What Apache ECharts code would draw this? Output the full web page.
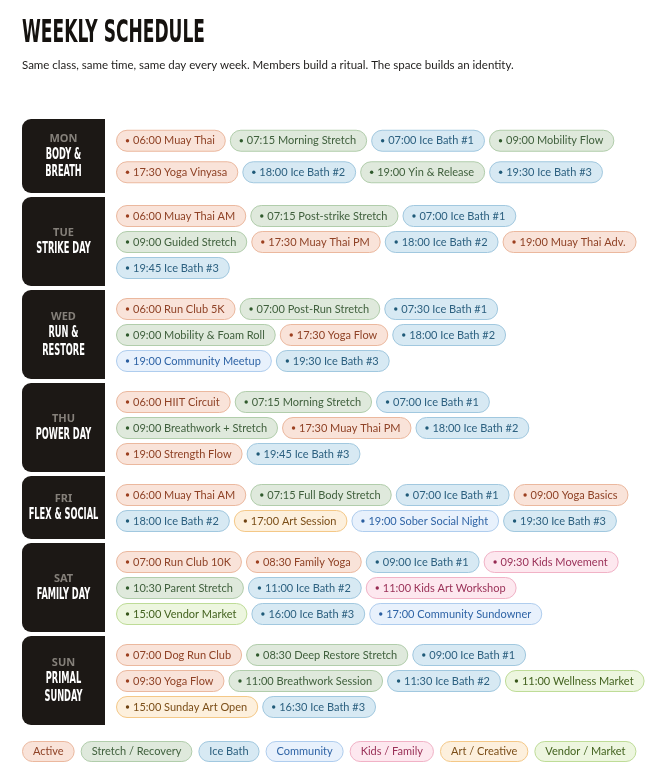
<!DOCTYPE html>
<html>
<head>
<meta charset="utf-8">
<script src="https://cdn.jsdelivr.net/npm/echarts@6/dist/echarts.min.js"></script>
<style>
  html, body { margin: 0; padding: 0; background: #fff; }
  #chart { width: 658px; height: 784px; }
</style>
</head>
<body>
<div id="chart"></div>
<script>
// 数据：每天的缩写和主题
const days = ['MON', 'TUE', 'WED', 'THU', 'FRI', 'SAT', 'SUN'];
const dayThemes = [
  ['BODY &', 'BREATH'],
  ['STRIKE DAY'],
  ['RUN &', 'RESTORE'],
  ['POWER DAY'],
  ['FLEX & SOCIAL'],
  ['FAMILY DAY'],
  ['PRIMAL', 'SUNDAY']
];

// 每天的课程，按原图的行分组 [时间, 名称, 类别]
const monClasses = [
  [['06:00', 'Muay Thai', 'active'], ['07:15', 'Morning Stretch', 'stretch'],
   ['07:00', 'Ice Bath #1', 'ice'], ['09:00', 'Mobility Flow', 'stretch']],
  [['17:30', 'Yoga Vinyasa', 'active'], ['18:00', 'Ice Bath #2', 'ice'],
   ['19:00', 'Yin & Release', 'stretch'], ['19:30', 'Ice Bath #3', 'ice']]
];
const tueClasses = [
  [['06:00', 'Muay Thai AM', 'active'], ['07:15', 'Post-strike Stretch', 'stretch'],
   ['07:00', 'Ice Bath #1', 'ice']],
  [['09:00', 'Guided Stretch', 'stretch'], ['17:30', 'Muay Thai PM', 'active'],
   ['18:00', 'Ice Bath #2', 'ice'], ['19:00', 'Muay Thai Adv.', 'active']],
  [['19:45', 'Ice Bath #3', 'ice']]
];
const wedClasses = [
  [['06:00', 'Run Club 5K', 'active'], ['07:00', 'Post-Run Stretch', 'stretch'],
   ['07:30', 'Ice Bath #1', 'ice']],
  [['09:00', 'Mobility & Foam Roll', 'stretch'], ['17:30', 'Yoga Flow', 'active'],
   ['18:00', 'Ice Bath #2', 'ice']],
  [['19:00', 'Community Meetup', 'community'], ['19:30', 'Ice Bath #3', 'ice']]
];
const thuClasses = [
  [['06:00', 'HIIT Circuit', 'active'], ['07:15', 'Morning Stretch', 'stretch'],
   ['07:00', 'Ice Bath #1', 'ice']],
  [['09:00', 'Breathwork + Stretch', 'stretch'], ['17:30', 'Muay Thai PM', 'active'],
   ['18:00', 'Ice Bath #2', 'ice']],
  [['19:00', 'Strength Flow', 'active'], ['19:45', 'Ice Bath #3', 'ice']]
];
const friClasses = [
  [['06:00', 'Muay Thai AM', 'active'], ['07:15', 'Full Body Stretch', 'stretch'],
   ['07:00', 'Ice Bath #1', 'ice'], ['09:00', 'Yoga Basics', 'active']],
  [['18:00', 'Ice Bath #2', 'ice'], ['17:00', 'Art Session', 'art'],
   ['19:00', 'Sober Social Night', 'community'], ['19:30', 'Ice Bath #3', 'ice']]
];
const satClasses = [
  [['07:00', 'Run Club 10K', 'active'], ['08:30', 'Family Yoga', 'active'],
   ['09:00', 'Ice Bath #1', 'ice'], ['09:30', 'Kids Movement', 'kids']],
  [['10:30', 'Parent Stretch', 'stretch'], ['11:00', 'Ice Bath #2', 'ice'],
   ['11:00', 'Kids Art Workshop', 'kids']],
  [['15:00', 'Vendor Market', 'vendor'], ['16:00', 'Ice Bath #3', 'ice'],
   ['17:00', 'Community Sundowner', 'community']]
];
const sunClasses = [
  [['07:00', 'Dog Run Club', 'active'], ['08:30', 'Deep Restore Stretch', 'stretch'],
   ['09:00', 'Ice Bath #1', 'ice']],
  [['09:30', 'Yoga Flow', 'active'], ['11:00', 'Breathwork Session', 'stretch'],
   ['11:30', 'Ice Bath #2', 'ice'], ['11:00', 'Wellness Market', 'vendor']],
  [['15:00', 'Sunday Art Open', 'art'], ['16:30', 'Ice Bath #3', 'ice']]
];
const weekClasses = [monClasses, tueClasses, wedClasses, thuClasses, friClasses, satClasses, sunClasses];

// 图例
const categoryKeys = ['active', 'stretch', 'ice', 'community', 'kids', 'art', 'vendor'];
const categoryNames = ['Active', 'Stretch / Recovery', 'Ice Bath', 'Community', 'Kids / Family', 'Art / Creative', 'Vendor / Market'];

const titleText = 'WEEKLY SCHEDULE';
const subtitleText = 'Same class, same time, same day every week. Members build a ritual. The space builds an identity.';

// 样式
const palette = {
  active:    { fill: '#f9e3d9', border: '#ebb89e', text: '#8f4226', dot: '#9c3f1f' },
  stretch:   { fill: '#dfe9dc', border: '#b1cdab', text: '#40603d', dot: '#2f5a2c' },
  ice:       { fill: '#d7e9f3', border: '#a1c8df', text: '#2d6180', dot: '#1f5a78' },
  community: { fill: '#e8f1fc', border: '#afcdee', text: '#2f64a6', dot: '#2a5ea0' },
  kids:      { fill: '#fde8ef', border: '#f1b2c6', text: '#9a3158', dot: '#962a52' },
  art:       { fill: '#fdf0dd', border: '#f4c887', text: '#7b4e18', dot: '#6f4312' },
  vendor:    { fill: '#edf6df', border: '#bedc97', text: '#43621f', dot: '#37561a' }
};
const CHIP_FONT = '11px Lato';
const COND_FONT = '"Liberation Sans Narrow", "DejaVu Sans Condensed", "Liberation Sans", sans-serif';

const measureCtx = document.createElement('canvas').getContext('2d');
function textWidth(str, font) {
  measureCtx.font = font;
  return measureCtx.measureText(str).width;
}

// 标题压缩比例（模拟窄体字）
const condScale = 183 / textWidth(titleText, 'bold 32px ' + COND_FONT);

// 布局
const BLOCK_X = 22, BLOCK_W = 83, CHIP_X0 = 116;
const CHIP_H = 21, CHIP_GAP = 5, ROW_GAP = 5, PAD_Y = 8, BLOCK_GAP = 4;
const CHIP_PAD = 27;

const chipLayout = [];
const blocks = [];
let blockTop = 119;
weekClasses.forEach((rows, d) => {
  const n = rows.length;
  const contentH = 2 * PAD_Y + n * CHIP_H + (n - 1) * ROW_GAP;
  const labelH = 23 + 17 * (1 + dayThemes[d].length);
  const H = Math.max(contentH, labelH);
  const lineH = CHIP_H + (H - contentH) / n;
  rows.forEach((r, ri) => {
    const cy = blockTop + PAD_Y + ri * (lineH + ROW_GAP) + lineH / 2;
    let x = CHIP_X0;
    r.forEach(c => {
      const label = c[0] + ' ' + c[1];
      const w = CHIP_PAD + textWidth(label, CHIP_FONT);
      chipLayout.push({ x: x, w: w, cy: cy, label: label, cat: c[2] });
      x += w + CHIP_GAP;
    });
  });
  blocks.push({ top: blockTop, h: H, day: d });
  blockTop += H + BLOCK_GAP;
});

const graphics = [];
graphics.push({
  type: 'text', x: 22, y: 34, scaleX: condScale,
  style: { text: titleText, fill: '#15120f', font: 'bold 32px ' + COND_FONT,
    align: 'left', textAlign: 'left', verticalAlign: 'middle', textVerticalAlign: 'middle' }
});
graphics.push({
  type: 'text', x: 22, y: 65,
  style: { text: subtitleText, fill: '#1f1d1b', font: '11.5px Lato',
    align: 'left', textAlign: 'left', verticalAlign: 'middle', textVerticalAlign: 'middle' }
});

blocks.forEach(b => {
  graphics.push({
    type: 'rect',
    shape: { x: BLOCK_X, y: b.top, width: BLOCK_W, height: b.h, r: [9, 0, 0, 9] },
    style: { fill: '#1c1815' }
  });
  const themes = dayThemes[b.day];
  const total = 15 + 17.5 * themes.length;
  const start = b.top + b.h / 2 - total / 2;
  const cx = BLOCK_X + BLOCK_W / 2;
  graphics.push({
    type: 'text', x: cx, y: start + 7.5,
    style: { text: days[b.day], fill: '#85807a', font: 'bold 11px "Noto Sans"',
      align: 'center', textAlign: 'center', verticalAlign: 'middle', textVerticalAlign: 'middle' }
  });
  themes.forEach((t, i) => {
    graphics.push({
      type: 'text', x: cx, y: start + 15 + 17.5 * i + 8.75, scaleX: condScale,
      style: { text: t, fill: '#ffffff', font: 'bold 15.5px ' + COND_FONT,
        align: 'center', textAlign: 'center', verticalAlign: 'middle', textVerticalAlign: 'middle' }
    });
  });
});

// 图例
let lx = 22;
const legendY = blockTop + 12;
categoryKeys.forEach((k, i) => {
  const w = 21 + textWidth(categoryNames[i], CHIP_FONT);
  const p = palette[k];
  graphics.push({
    type: 'rect',
    shape: { x: lx + 0.5, y: legendY + 0.5, width: w, height: 20, r: 10 },
    style: { fill: p.fill, stroke: p.border, lineWidth: 1 }
  });
  graphics.push({
    type: 'text', x: lx + 11, y: legendY + 10.5,
    style: { text: categoryNames[i], fill: p.text, font: CHIP_FONT,
      align: 'left', textAlign: 'left', verticalAlign: 'middle', textVerticalAlign: 'middle' }
  });
  lx += w + 7;
});

const chart = echarts.init(document.getElementById('chart'));
chart.setOption({
  backgroundColor: '#ffffff',
  animation: false,
  graphic: { elements: graphics },
  series: [{
    type: 'custom',
    coordinateSystem: 'none',
    silent: true,
    data: chipLayout.map((c, i) => [i]),
    renderItem: function (params) {
      const c = chipLayout[params.dataIndex];
      const p = palette[c.cat];
      return {
        type: 'group',
        children: [
          {
            type: 'rect',
            shape: { x: c.x + 0.5, y: c.cy - CHIP_H / 2 + 0.5, width: c.w, height: CHIP_H, r: CHIP_H / 2 },
            style: { fill: p.fill, stroke: p.border, lineWidth: 1 }
          },
          {
            type: 'circle',
            shape: { cx: c.x + 11.5, cy: c.cy + 0.5, r: 1.7 },
            style: { fill: p.dot }
          },
          {
            type: 'text',
            x: c.x + 17, y: c.cy + 0.5,
            style: { text: c.label, fill: p.text, font: CHIP_FONT,
              align: 'left', textAlign: 'left', verticalAlign: 'middle', textVerticalAlign: 'middle' }
          }
        ]
      };
    }
  }]
});
window.onresize = function () {
  chart.resize();
};
</script>
</body>
</html>
